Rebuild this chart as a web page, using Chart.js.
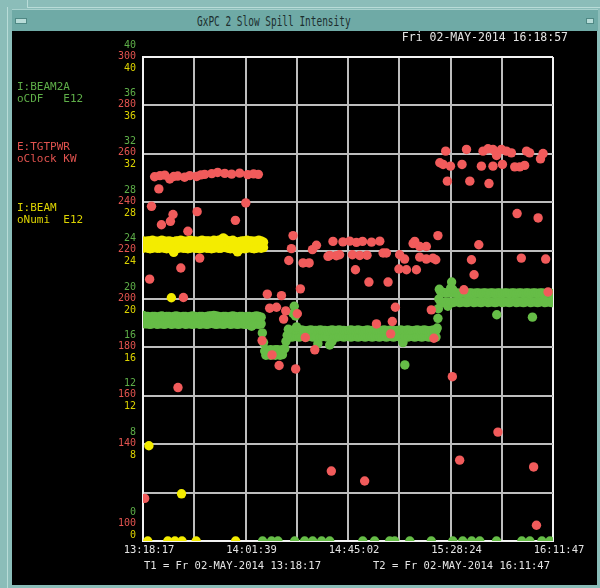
<!DOCTYPE html>
<html>
<head>
<meta charset="utf-8">
<title>GxPC 2 Slow Spill Intensity</title>
<script src="https://cdn.jsdelivr.net/npm/chart.js@4.4.1/dist/chart.umd.min.js"></script>
<style>
  html, body { margin: 0; padding: 0; }
  body { width: 600px; height: 588px; position: relative; overflow: hidden; background: #8bbdb9; }
  #edgeV { position: absolute; left: 7px; top: 7px; width: 1px; height: 581px; background: #b9dcd8; }
  #edgeH { position: absolute; left: 27px; top: 7px; width: 573px; height: 1px; background: #b9dcd8; }
  #notch { position: absolute; left: 27px; top: 0; width: 1px; height: 8px; background: #b9dcd8; }
  #titlebar { position: absolute; left: 12px; top: 9px; width: 586px; height: 21px; background: #6faaa6;
              border-top: 1px solid #a9d2ce; }
  #btnL { position: absolute; left: 15px; top: 18px; width: 10px; height: 4px; background: #b8dcd8; border: 1px solid #4f8884; }
  #btnR { position: absolute; left: 586px; top: 18px; width: 6px; height: 4px; background: #b8dcd8; border: 1px solid #4f8884; }
  #title { position: absolute; left: 197px; top: 12px; height: 18px; line-height: 18px; white-space: nowrap;
           font-family: "DejaVu Sans Mono", monospace; font-size: 13.5px; color: #1c2e2e;
           transform-origin: 0 50%; transform: scaleX(0.7); }
  #panel { position: absolute; left: 12px; top: 31px; width: 585px; height: 554px; background: #000; }
  #chart { position: absolute; left: 0; top: 0; }
</style>
</head>
<body>
<div id="edgeV"></div>
<div id="edgeH"></div>
<div id="notch"></div>
<div id="titlebar"></div>
<div id="btnL"></div>
<div id="btnR"></div>
<div id="title">GxPC 2 Slow Spill Intensity</div>
<div id="panel"></div>
<canvas id="chart" width="600" height="588"></canvas>
<script>
// Time axis: minutes after T1 (13:18:17); T2 = 16:11:47 is 173.5 min later.
const spanMinutes = 173.5;
const gridMinutes = [0, 21.6875, 43.375, 65.0625, 86.75, 108.4375, 130.125, 151.8125, 173.5];
const xTickLabels = ['13:18:17', '', '14:01:39', '', '14:45:02', '', '15:28:24', '', '16:11:47'];

// Left axis labels, one row per parameter
const cdfTicks  = [40, 36, 32, 28, 24, 20, 16, 12, 8, 0];
const pwrTicks  = [300, 280, 260, 240, 220, 200, 180, 160, 140, 100];
const numiTicks = [40, 36, 32, 28, 24, 20, 16, 12, 8, 0];

// E:TGTPWR, target power [KW]: [minute, value]
const tgtpwr = [
  [4.9,250.5],[7.2,251.0],[9.2,251.2],[11.3,249.6],[13.0,250.6],[14.7,250.8],[17.6,250.3],[19.8,251.0],
  [22.7,250.6],[24.5,251.3],[26.1,251.5],[29.1,251.8],[31.6,252.3],[34.6,251.9],[37.5,251.6],[40.9,252.0],
  [44.3,251.4],[46.8,251.7],[48.8,251.5],
  [6.7,245.5],[3.6,238.3],[12.7,234.9],[11.6,232.1],[7.8,230.7],[22.9,236.1],[43.5,239.7],[39.1,232.5],
  [19.0,228.0],[24.0,216.9],[16.0,212.8],[2.8,208.2],[17.1,200.6],[14.8,163.4],[0.7,117.6],
  [63.5,226.2],[62.8,220.8],[61.7,215.9],[67.7,214.9],[70.3,214.9],[71.7,220.4],[73.4,222.2],[80.4,223.8],
  [78.3,217.6],[81.8,217.9],[66.6,204.2],[52.6,202.0],[58.6,201.4],[53.6,196.2],[56.5,196.6],[60.4,195.1],
  [65.3,193.9],[59.5,191.7],[68.7,184.1],[50.4,182.8],[72.7,179.0],[54.6,176.9],[57.6,172.5],[64.6,171.1],
  [84.6,223.6],[87.5,223.9],[90.3,223.4],[92.9,223.8],[96.7,223.5],[100.2,223.9],[101.6,219.0],[103.0,219.0],
  [79.0,218.0],[83.2,218.3],[88.6,218.3],[91.7,218.0],[94.8,218.1],
  [89.9,212.1],[95.6,207.0],[103.7,207.0],[108.6,218.3],[110.7,216.5],[108.3,212.4],[111.5,212.1],[115.7,212.1],
  [114.3,222.9],[115.0,223.8],[117.1,221.7],[119.9,221.7],[117.1,217.3],[119.9,216.5],[122.7,216.9],[123.9,216.2],
  [124.8,226.2],[106.8,196.6],[105.5,190.7],[98.8,189.7],[104.8,185.6],[122.0,195.5],[123.1,183.8],
  [140.1,210.0],[139.0,216.2],[142.1,222.4],[135.8,203.8],[171.4,202.9],[160.1,216.9],[170.4,216.5],
  [158.3,235.3],[167.2,233.5],
  [128.1,261.1],[136.9,261.8],[143.9,261.1],[146.0,262.1],[148.1,261.8],[149.6,259.3],[151.7,261.8],[153.8,261.1],
  [155.9,260.4],[162.3,261.1],[163.6,260.4],[169.3,260.1],[168.2,257.9],[125.6,256.3],[127.0,255.6],[130.1,254.9],
  [135.0,255.6],[143.2,254.9],[148.1,254.9],[152.1,255.6],[157.3,254.6],[159.4,254.6],[161.5,255.2],
  [128.8,248.7],[138.3,248.7],[146.4,247.7],
  [130.9,167.9],[150.2,145.0],[134.0,133.4],[165.3,130.6],[93.8,124.8],[79.7,128.9],[166.5,106.5]
];

// I:BEAM2A, CDF beam [E12]: spread of each minute's pulses as [minute, low, high]
const beam2aBand = [
  [0,18.0,18.65],[1,17.95,18.55],[2,17.95,18.55],[3,17.9,18.5],[4,17.95,18.55],[5,18.0,18.55],[6,17.9,18.5],
  [7,17.95,18.55],[8,17.95,18.6],[9,17.9,18.5],[10,17.95,18.55],[11,18.0,18.55],[12,17.9,18.5],[13,17.95,18.55],
  [14,17.95,18.6],[15,17.9,18.55],[16,17.95,18.5],[17,18.0,18.55],[18,17.9,18.55],[19,17.95,18.5],[20,17.95,18.55],
  [21,17.9,18.6],[22,17.95,18.55],[23,18.0,18.5],[24,17.9,18.55],[25,17.95,18.55],[26,17.95,18.5],[27,17.9,18.55],
  [28,17.95,18.6],[29,18.0,18.6],[30,17.95,18.65],[31,17.9,18.6],[32,17.95,18.55],[33,17.95,18.5],[34,17.9,18.55],
  [35,17.95,18.55],[36,18.0,18.5],[37,17.9,18.55],[38,17.95,18.6],[39,17.95,18.55],[40,17.9,18.5],[41,17.95,18.55],
  [42,17.95,18.55],[43,17.9,18.5],[44,17.95,18.55],[45,17.85,18.55],[46,17.75,18.5],[47,17.9,18.55],[48,17.95,18.6],
  [49,17.9,18.55],[50,17.95,18.5],
  [52,15.35,15.8],[53,15.4,15.75],[54,15.35,15.8],[55,15.4,15.75],[56,15.35,15.8],[57,15.4,15.8],[58,15.35,15.75],
  [59,15.4,15.8],
  [62,16.9,17.4],[63,16.85,17.4],[64,16.9,17.45],[65,16.9,17.4],[66,16.85,17.4],[67,16.9,17.45],[68,16.9,17.4],
  [69,16.85,17.35],[70,16.9,17.4],[71,16.9,17.45],[72,16.85,17.4],[73,16.9,17.4],[74,16.3,17.4],[75,16.85,17.45],
  [76,16.9,17.4],[77,16.9,17.4],[78,16.85,17.35],[79,16.2,17.4],[80,16.5,17.45],[81,16.9,17.4],[82,16.85,17.4],
  [83,16.9,17.45],[84,16.9,17.4],[85,16.85,17.4],[86,16.9,17.35],[87,16.9,17.4],[88,16.85,17.45],[89,16.9,17.4],
  [90,16.9,17.4],[91,16.85,17.45],[92,16.9,17.4],[93,16.9,17.35],[94,16.85,17.4],[95,16.9,17.45],[96,16.9,17.4],
  [97,16.85,17.4],[98,16.9,17.45],[99,16.9,17.4],[100,16.85,17.35],[101,16.9,17.4],[102,16.9,17.45],[103,16.85,17.4],
  [104,16.9,17.4],[105,16.9,17.45],[106,16.85,17.4],[107,16.9,17.35],[108,16.9,17.4],[109,16.85,17.45],[110,16.4,17.4],
  [111,16.9,17.4],[112,16.85,17.45],[113,16.9,17.4],[114,16.9,17.35],[115,16.85,17.4],[116,16.9,17.45],[117,16.9,17.4],
  [118,16.85,17.4],[119,16.9,17.45],[120,16.9,17.4],[121,16.85,17.35],[122,16.9,17.4],[123,16.9,17.45],[124,16.85,17.4],
  [126,19.75,20.6],[127,19.7,20.55],[128,19.75,20.5],[129,19.4,20.5],[130,19.75,20.55],[131,19.7,20.5],[132,19.75,20.5],
  [133,19.8,20.5],[134,19.7,20.45],[135,19.75,20.5],[136,19.75,20.5],[137,19.7,20.45],[138,19.75,20.5],[139,19.8,20.5],
  [140,19.7,20.45],[141,19.75,20.5],[142,19.75,20.5],[143,19.7,20.45],[144,19.75,20.5],[145,19.8,20.5],[146,19.7,20.45],
  [147,19.75,20.5],[148,19.75,20.5],[149,19.7,20.45],[150,19.75,20.5],[151,19.8,20.5],[152,19.7,20.45],[153,19.75,20.5],
  [154,19.75,20.5],[155,19.7,20.45],[156,19.75,20.5],[157,19.8,20.5],[158,19.7,20.45],[159,19.75,20.5],[160,19.75,20.5],
  [161,19.7,20.45],[162,19.75,20.5],[163,19.8,20.5],[164,19.7,20.45],[165,19.75,20.5],[166,19.75,20.5],[167,19.7,20.45],
  [168,19.75,20.5],[169,19.8,20.5],[170,19.7,20.45],[171,19.75,20.5],[172,19.75,20.5],[173,19.7,20.45]
];

// I:BEAM2A single readings: steps, spikes, strays and dropped pulses
const beam2aPoints = [
  [50.5,17.2],[51,16.4],[51.5,15.7],[60,15.9],[60.5,16.5],[61,17.0],[61.5,17.5],
  [63.5,18.8],[64,19.4],[64.5,18.6],[65,17.7],
  [124.5,17.6],[124.8,18.4],[125,19.2],[125.2,20.0],[125.4,20.8],[130.2,20.9],[130.6,21.4],[131,20.8],
  [149.7,18.7],[164.8,18.5],[110.8,14.55],
  [50.6,0],[54.4,0],[57.1,0],[64.2,0],[68.4,0],[71.8,0],[75.6,0],[79.0,0],[93.0,0],[98.0,0],
  [104.4,0],[106.5,0],[112.9,0],[122.0,0],[131.1,0],[135.3,0],[139.1,0],[142.5,0],[149.6,0],
  [160.3,0],[163.7,0],[168.8,0],[172.2,0]
];

// I:BEAM, NuMI beam [E12]: [minute, low, high]
const numiBand = [
  [0,24.2,24.8],[1,24.25,24.75],[2,24.2,24.8],[3,24.15,24.8],[4,24.2,24.85],[5,24.25,24.8],[6,24.2,24.75],
  [7,24.2,24.8],[8,24.25,24.85],[9,24.2,24.8],[10,24.15,24.75],[11,24.2,24.8],[12,24.1,24.75],[13,23.85,24.6],
  [14,24.15,24.8],[15,24.2,24.8],[16,24.25,24.85],[17,24.2,24.8],[18,24.2,24.75],[19,24.15,24.8],[20,24.2,24.85],
  [21,24.25,24.8],[22,24.2,24.8],[23,24.2,24.75],[24,24.15,24.8],[25,24.2,24.85],[26,24.25,24.8],[27,24.2,24.8],
  [28,24.2,24.8],[29,24.15,24.75],[30,24.2,24.85],[31,24.25,24.8],[32,24.2,24.85],[33,24.2,24.9],[34,24.3,25.05],
  [35,24.25,24.9],[36,24.2,24.8],[37,24.15,24.8],[38,24.2,24.85],[39,24.1,24.75],[40,23.9,24.6],[41,24.1,24.75],
  [42,24.2,24.8],[43,24.15,24.8],[44,24.2,24.85],[45,24.25,24.8],[46,24.2,24.8],[47,24.15,24.75],[48,24.2,24.8],
  [49,24.25,24.85],[50,24.2,24.8],[51,24.25,24.7]
];

// I:BEAM single readings
const numiPoints = [
  [12.0,20.1],[2.5,7.87],[16.3,3.9],
  [2.0,0],[10.5,0],[13.5,0],[16.5,0],[22.5,0],[39.2,0]
];

const RED = '#f15b5b', GREEN = '#66bd47', YELLOW = '#f4ec00';
const RED_TXT = '#e2534f', GREEN_TXT = '#5eae48', YELLOW_TXT = '#dcd300';
const GRID = '#bdbdbd', EDGE = '#f2f2f2', TEXT = '#e4e4e4';
const MONO = '"DejaVu Sans Mono", monospace';

const toXY = rows => rows.map(([x, y]) => ({x, y}));
const bandXY = rows => rows.flatMap(([x, lo, hi]) => [{x, y: lo}, {x, y: hi}]);

const panelText = {
  id: 'panelText',
  afterDraw(chart) {
    const ctx = chart.ctx;
    const yG = chart.scales.yCdf, yR = chart.scales.yPwr, yY = chart.scales.yNumi;
    ctx.save();
    // stacked axis labels: CDF above, power on the line, NuMI below
    ctx.font = '10px ' + MONO;
    ctx.textAlign = 'right';
    ctx.textBaseline = 'middle';
    cdfTicks.forEach((v, i) => {
      const lift = v === 0 ? 17 : 0;
      ctx.fillStyle = GREEN_TXT;
      ctx.fillText(String(v), 136, yG.getPixelForValue(v) - 12 - lift);
      ctx.fillStyle = RED_TXT;
      ctx.fillText(String(pwrTicks[i]), 136, yR.getPixelForValue(pwrTicks[i]) - 1 - lift);
      ctx.fillStyle = YELLOW_TXT;
      ctx.fillText(String(numiTicks[i]), 136, yY.getPixelForValue(numiTicks[i]) + 11 - lift);
    });
    // parameter names
    ctx.font = '11px ' + MONO;
    ctx.textAlign = 'left';
    ctx.fillStyle = GREEN_TXT;
    ctx.fillText('I:BEAM2A', 17, 87);
    ctx.fillText('oCDF   E12', 17, 99);
    ctx.fillStyle = RED_TXT;
    ctx.fillText('E:TGTPWR', 17, 147);
    ctx.fillText('oClock KW', 17, 159);
    ctx.fillStyle = YELLOW_TXT;
    ctx.fillText('I:BEAM', 17, 208);
    ctx.fillText('oNumi  E12', 17, 220);
    // timestamps
    ctx.fillStyle = TEXT;
    ctx.font = '11.5px ' + MONO;
    ctx.textAlign = 'right';
    ctx.fillText('Fri 02-MAY-2014 16:18:57', 568, 38);
    ctx.font = '10.5px ' + MONO;
    ctx.textAlign = 'left';
    ctx.fillText('T1 = Fr 02-MAY-2014 13:18:17', 144, 566);
    ctx.fillText('T2 = Fr 02-MAY-2014 16:11:47', 373, 566);
    ctx.restore();
  }
};

const dot = { pointRadius: 4.7, pointBorderWidth: 0, pointHoverRadius: 4.7, showLine: false };

new Chart(document.getElementById('chart'), {
  type: 'scatter',
  data: {
    datasets: [
      { label: 'E:TGTPWR', data: toXY(tgtpwr), yAxisID: 'yPwr', backgroundColor: RED, ...dot },
      { label: 'I:BEAM2A', data: bandXY(beam2aBand).concat(toXY(beam2aPoints)), yAxisID: 'yCdf',
        backgroundColor: GREEN, ...dot },
      { label: 'I:BEAM', data: bandXY(numiBand).concat(toXY(numiPoints)), yAxisID: 'yNumi',
        backgroundColor: YELLOW, ...dot }
    ]
  },
  options: {
    responsive: false,
    animation: false,
    events: [],
    layout: { padding: { left: 143, right: 47, top: 57, bottom: 0 } },
    plugins: { legend: { display: false }, tooltip: { enabled: false } },
    scales: {
      x: {
        type: 'linear', min: 0, max: spanMinutes,
        afterBuildTicks: s => { s.ticks = gridMinutes.map(v => ({ value: v })); },
        afterFit: s => { s.height = 47; },
        grid: {
          drawTicks: false, lineWidth: 2,
          color: c => (c.index === 0 || c.index === gridMinutes.length - 1) ? EDGE : GRID
        },
        border: { color: EDGE, width: 2 },
        ticks: {
          autoSkip: false, maxRotation: 0, minRotation: 0, padding: 3, labelOffset: 6,
          color: TEXT, font: { family: MONO, size: 10.5 },
          callback: (v, i) => xTickLabels[i]
        }
      },
      yCdf: {
        position: 'left', min: 0, max: 40,
        ticks: { display: false, stepSize: 4 },
        afterFit: s => { s.width = 0; },
        grid: {
          drawTicks: false, lineWidth: 2,
          color: c => (c.tick && c.tick.value === 40) ? EDGE : GRID
        },
        border: { color: EDGE, width: 2 }
      },
      yPwr: { display: false, min: 100, max: 300 },
      yNumi: { display: false, min: 0, max: 40 }
    }
  },
  plugins: [panelText]
});
</script>
</body>
</html>
